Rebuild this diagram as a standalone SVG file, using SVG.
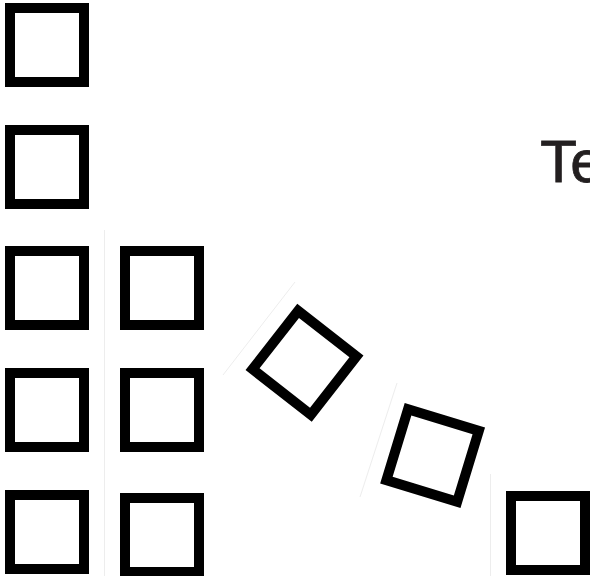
<svg xmlns="http://www.w3.org/2000/svg" width="590" height="576" viewBox="0 0 590 576">
  <style>
    .sq { fill: #ffffff; stroke: #000000; stroke-width: 10; }
    .faint { stroke: #ededed; stroke-width: 1; fill: none; }
    .label { font-family: "Liberation Sans", Arial, sans-serif; font-size: 60px; fill: #231f20; stroke: #231f20; stroke-width: 0.8; }
  </style>
  <rect width="590" height="576" fill="#ffffff"/>
  <g id="guides">
    <line class="faint" x1="104.5" y1="230" x2="104.5" y2="576"/>
    <line class="faint" x1="490.5" y1="474" x2="490.5" y2="576"/>
    <line class="faint" x1="295" y1="282" x2="223" y2="375"/>
    <line class="faint" x1="397" y1="383" x2="360" y2="497"/>
  </g>
  <g id="connectors"></g>
  <g id="sq-1-1"><rect class="sq" x="10" y="8" width="74" height="74"/></g>
  <g id="sq-1-2"><rect class="sq" x="10" y="130" width="74" height="74"/></g>
  <g id="sq-1-3"><rect class="sq" x="10" y="251" width="74" height="74"/></g>
  <g id="sq-1-4"><rect class="sq" x="10" y="373" width="74" height="74"/></g>
  <g id="sq-1-5"><rect class="sq" x="10" y="495" width="74" height="74"/></g>
  <g id="sq-2-3"><rect class="sq" x="125" y="251" width="74" height="74"/></g>
  <g id="sq-2-4"><rect class="sq" x="125" y="373" width="74" height="74"/></g>
  <g id="sq-2-5"><rect class="sq" x="125" y="498" width="74" height="74"/></g>
  <g id="sq-rot-a" transform="translate(304.5,362.8) rotate(38)"><rect class="sq" x="-37" y="-37" width="74" height="74"/></g>
  <g id="sq-rot-b" transform="translate(432.6,455.5) rotate(17)"><rect class="sq" x="-37" y="-37" width="74" height="74"/></g>
  <g id="sq-br"><rect class="sq" x="511" y="496" width="74" height="74"/></g>
  <g id="title"><text class="label" x="540.3" y="181.7">Te</text></g>
</svg>
